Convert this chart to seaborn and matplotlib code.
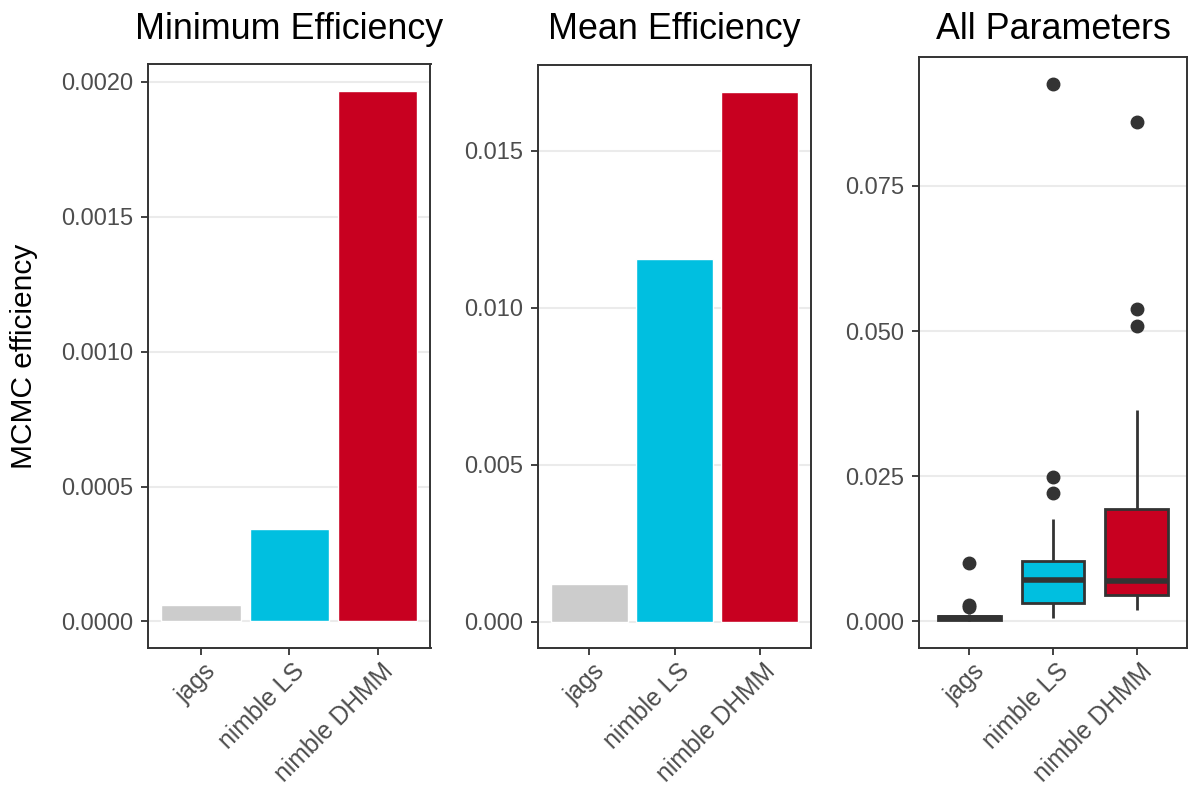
import numpy as np
import pandas as pd
import matplotlib
matplotlib.use("Agg")
import matplotlib.pyplot as plt
from matplotlib.ticker import FixedLocator, FuncFormatter
from matplotlib.transforms import ScaledTranslation
import seaborn as sns

# ---- data -------------------------------------------------------------
methods = ["jags", "nimble LS", "nimble DHMM"]
colors = ["#CCCCCC", "#00BFE0", "#C80020"]

min_eff = [0.00006, 0.000344, 0.001967]
mean_eff = [0.00121, 0.01154, 0.01688]

# per-parameter efficiencies for each sampler
eff_jags = [0.00003, 0.00006, 0.0001, 0.00014, 0.00017, 0.0002, 0.00026,
            0.0003, 0.00036, 0.00042, 0.0005, 0.00056, 0.00062, 0.0007,
            0.0008, 0.0009, 0.0010, 0.0012, 0.0025, 0.0027, 0.0100]
eff_ls = [0.00048, 0.0012, 0.0018, 0.0023, 0.0028, 0.00306, 0.0040,
          0.0052, 0.0061, 0.0068, 0.00715, 0.0078, 0.0085, 0.0093,
          0.0099, 0.01035, 0.0128, 0.0176, 0.0220, 0.0248, 0.0926]
eff_dhmm = [0.00197, 0.0028, 0.0034, 0.0038, 0.0042, 0.00456, 0.0050,
            0.0055, 0.0060, 0.0065, 0.00694, 0.0090, 0.0120, 0.0150,
            0.0175, 0.0194, 0.0260, 0.0364, 0.0509, 0.0538, 0.0861]

min_ticks = [0.0, 0.0005, 0.0010, 0.0015, 0.0020]
mean_ticks = [0.0, 0.005, 0.010, 0.015]
all_ticks = [0.0, 0.025, 0.050, 0.075]

# ---- style ------------------------------------------------------------
sns.set_theme(style="white")
plt.rcParams["font.family"] = ["Liberation Sans", "DejaVu Sans"]

W, H = 1188, 787
fig = plt.figure(figsize=(W / 100, H / 100), dpi=100)

EDGE = "#333333"
TICKC = "#4D4D4D"
GRID = "#EBEBEB"
shift = ScaledTranslation(3 / 100, 0, fig.dpi_scale_trans)


def px_axes(left, right, top, bottom):
    return fig.add_axes([left / W, 1 - bottom / H, (right - left) / W, (bottom - top) / H])


def style_axes(ax, ticks, decimals, vmax):
    ax.set_xlim(-0.6, 2.6)
    ax.set_ylim(-0.05 * vmax, 1.05 * vmax)
    ax.yaxis.set_major_locator(FixedLocator(ticks))
    ax.yaxis.set_major_formatter(FuncFormatter(lambda v, p: f"{v:.{decimals}f}"))
    ax.grid(axis="y", color=GRID, linewidth=1.5)
    ax.grid(axis="x", visible=False)
    ax.set_axisbelow(True)
    for s in ax.spines.values():
        s.set_visible(True)
        s.set_color(EDGE)
        s.set_linewidth(1.4)
    ax.tick_params(axis="both", which="major", length=5, width=1.3, color=EDGE,
                   labelcolor=TICKC, labelsize=17, bottom=True, left=True)
    ax.tick_params(axis="y", pad=5.5)
    ax.tick_params(axis="x", pad=3, labelsize=17.8)
    ax.set_xlabel("")
    ax.set_ylabel("")
    ax.set_xticks(range(len(methods)))
    ax.set_xticklabels(methods, rotation=45, ha="right", va="top",
                       rotation_mode="anchor")
    for lab in ax.get_xticklabels():
        lab.set_transform(lab.get_transform() + shift)


# ---- panel 1: minimum efficiency --------------------------------------
ax1 = px_axes(148, 430.5, 64, 648)
sns.barplot(x=methods, y=min_eff, hue=methods, palette=colors, legend=False,
            width=0.9, saturation=1, ax=ax1)
style_axes(ax1, min_ticks, 4, max(min_eff))

# ---- panel 2: mean efficiency -----------------------------------------
ax2 = px_axes(538, 811, 65, 648)
sns.barplot(x=methods, y=mean_eff, hue=methods, palette=colors, legend=False,
            width=0.9, saturation=1, ax=ax2)
style_axes(ax2, mean_ticks, 3, max(mean_eff))

# ---- panel 3: all parameters ------------------------------------------
df = pd.DataFrame({
    "method": np.repeat(methods, [len(eff_jags), len(eff_ls), len(eff_dhmm)]),
    "eff": eff_jags + eff_ls + eff_dhmm,
})
ax3 = px_axes(919, 1187, 57, 648)
sns.boxplot(data=df, x="method", y="eff", hue="method", order=methods,
            hue_order=methods, palette=colors, legend=False, width=0.75,
            saturation=1, linecolor=EDGE, linewidth=2, showcaps=False,
            boxprops=dict(linewidth=2),
            whiskerprops=dict(linewidth=2, color=EDGE),
            medianprops=dict(linewidth=4, color=EDGE),
            flierprops=dict(marker="o", markerfacecolor=EDGE,
                            markeredgecolor=EDGE, markersize=9),
            ax=ax3)
style_axes(ax3, all_ticks, 3, max(df["eff"]))

# ---- titles and shared label ------------------------------------------
for ax, title in [(ax1, "Minimum Efficiency"), (ax2, "Mean Efficiency"),
                  (ax3, "All Parameters")]:
    bb = ax.get_position()
    fig.text((bb.x0 + bb.x1) / 2, 1 - 39 / H, title, ha="center",
             va="baseline", fontsize=25.8, color="black")

fig.text(24 / W, 1 - 356 / H, "MCMC efficiency", rotation=90, ha="center",
         va="center", fontsize=21.5, color="black")

fig.savefig("out.png", dpi=100, facecolor="white")
